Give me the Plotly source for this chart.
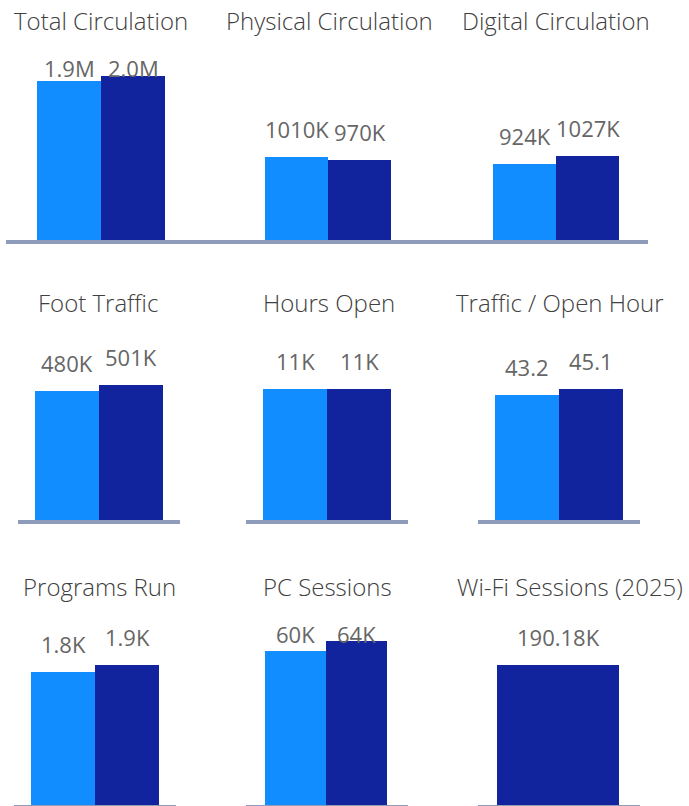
import plotly.graph_objects as go

# ---------------- data ----------------
years = ["2024", "2025"]
titles = ["Total Circulation", "Physical Circulation", "Digital Circulation",
          "Foot Traffic", "Hours Open", "Traffic / Open Hour",
          "Programs Run", "PC Sessions", "Wi-Fi Sessions (2025)"]
total_circulation = [1934000, 1997000]
physical_circulation = [1010000, 970000]
digital_circulation = [924000, 1027000]
foot_traffic = [480000, 501000]
hours_open = [11110, 11110]
traffic_per_hour = [43.2, 45.1]
programs_run = [1810, 1900]
pc_sessions = [60200, 64200]
wifi_sessions = [190180]
wifi_years = ["2025"]

total_labels = ["1.9M", "2.0M"]
physical_labels = ["1010K", "970K"]
digital_labels = ["924K", "1027K"]
foot_labels = ["480K", "501K"]
hours_labels = ["11K", "11K"]
tph_labels = ["43.2", "45.1"]
programs_labels = ["1.8K", "1.9K"]
pc_labels = ["60K", "64K"]
wifi_labels = ["190.18K"]

series = [
    (years, total_circulation, total_labels),
    (years, physical_circulation, physical_labels),
    (years, digital_circulation, digital_labels),
    (years, foot_traffic, foot_labels),
    (years, hours_open, hours_labels),
    (years, traffic_per_hour, tph_labels),
    (years, programs_run, programs_labels),
    (years, pc_sessions, pc_labels),
    (wifi_years, wifi_sessions, wifi_labels),
]

# ---------------- layout (pixels) ----------------
W, H = 689, 806
COLORS = {"2024": "#118DFF", "2025": "#12239E"}
LINE = "#8E9BBB"
FONT = "Segoe UI, Open Sans, sans-serif"

rows_y = [(50, 240), (330, 520), (610, 805)]          # plot top / baseline
title_y = [20, 302, 586]
# dom x0, dom x1, bar left, bar width, y max, label cap (px), title center x
panels = [
    (6, 220, 37, 64, 2312000, 78, 101),
    (220, 435, 265, 63, 2312000, None, 329),
    (435, 648, 493, 63, 2312000, None, 556),
    (18, 180, 35, 64, 705000, None, 98),
    (246, 408, 263, 64, 16110, None, 329),
    (478, 640, 495, 64, 65.4, None, 560),
    (14, 176, 31, 64, 2646, None, 99),
    (246, 408, 265, 61, 76300, 644, 327),
    (478, 640, 497, 122, 264900, None, 570),
]

fig = go.Figure()
annotations = []
LABEL_GAP = 18
DESCENT = 7

for i, ((cats, vals, labs), (x0, x1, bl, bw, ymax, cap, tcx)) in enumerate(zip(series, panels)):
    n = i + 1
    xa = "x" if n == 1 else f"x{n}"
    ya = "y" if n == 1 else f"y{n}"
    r = i // 3
    top, base = rows_y[r]
    fig.add_trace(go.Bar(
        x=cats, y=vals, xaxis=xa, yaxis=ya,
        marker=dict(color=[COLORS[c] for c in cats], line=dict(width=0)),
        hoverinfo="skip", showlegend=False,
    ))
    ncat = len(cats)
    rng = [-0.5 - (bl - x0) / bw, ncat - 0.5 + (x1 - (bl + ncat * bw)) / bw]
    fig.layout[f"xaxis{'' if n == 1 else n}"] = dict(
        domain=[x0 / W, x1 / W], anchor=ya, type="category", range=rng,
        showline=True, linecolor=LINE, linewidth=4, showticklabels=False,
        ticks="", showgrid=False, zeroline=False, fixedrange=True)
    fig.layout[f"yaxis{'' if n == 1 else n}"] = dict(
        domain=[1 - base / H, 1 - top / H], anchor=xa, range=[0, ymax],
        showline=False, showticklabels=False, ticks="", showgrid=False,
        zeroline=False, fixedrange=True)
    dom_h = base - top
    for j, (c, v, t) in enumerate(zip(cats, vals, labs)):
        bar_top = base - v / ymax * dom_h
        baseline = bar_top - LABEL_GAP
        if cap is not None:
            baseline = max(baseline, cap)
        shift = bar_top - baseline - DESCENT
        annotations.append(dict(
            x=j, y=v, xref=xa, yref=ya, text=t, showarrow=False,
            yanchor="bottom", xanchor="center", yshift=shift,
            font=dict(family=FONT, size=22, color="#666666")))
    annotations.append(dict(
        x=tcx / W, y=1 - title_y[r] / H, xref="paper", yref="paper",
        text=titles[i], showarrow=False, xanchor="center", yanchor="middle",
        font=dict(family=FONT, size=24, color="#404040", weight=300)))

fig.update_layout(
    width=W, height=H, margin=dict(l=0, r=0, t=0, b=0),
    paper_bgcolor="white", plot_bgcolor="white",
    bargap=0, annotations=annotations, showlegend=False,
)

fig.write_html("out.html", config={"displayModeBar": False},
               post_script="document.body.style.margin='0';")
